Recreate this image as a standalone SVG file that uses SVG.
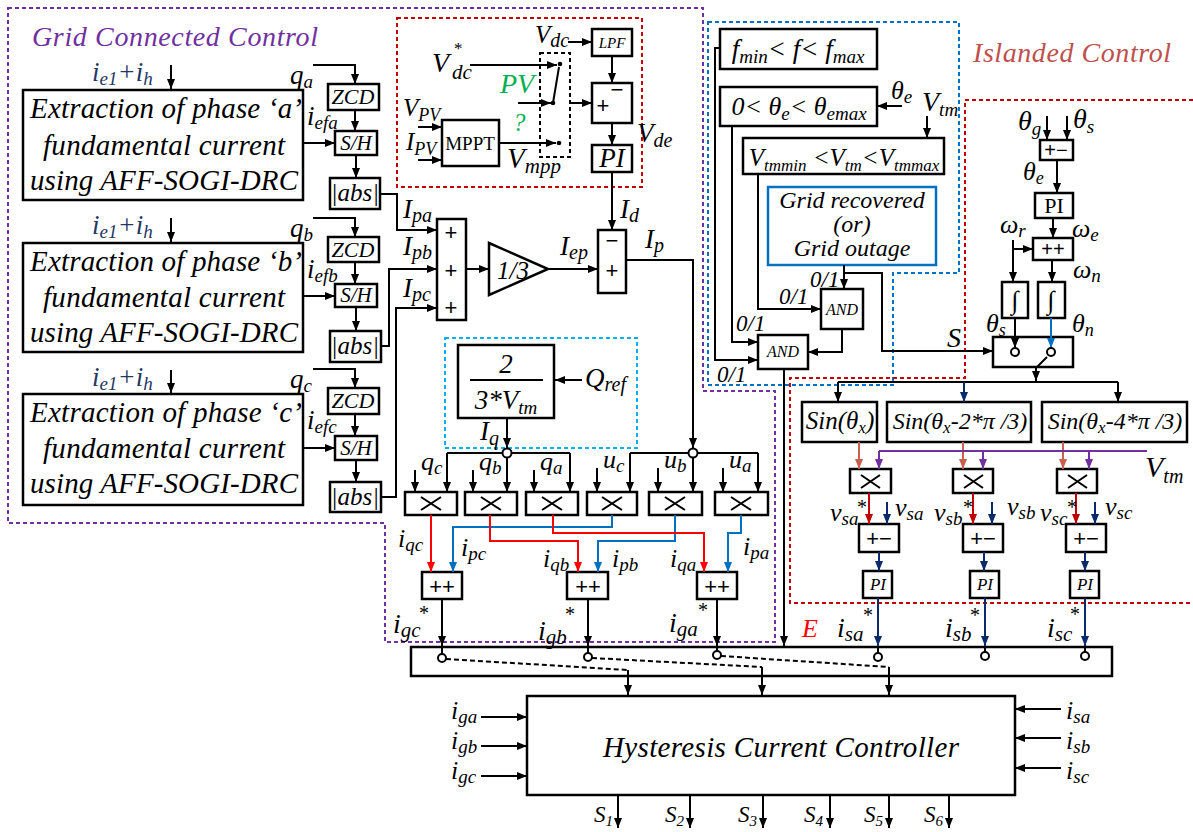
<svg xmlns="http://www.w3.org/2000/svg" width="1193" height="832" viewBox="0 0 1193 832">
<defs>
<style>
.t{font-family:"Liberation Serif","Times New Roman",serif;font-style:italic;fill:#000}
.r{font-family:"Liberation Serif","Times New Roman",serif;fill:#000}
.s{font-family:"Liberation Sans",Arial,sans-serif;fill:#000}
.m{text-anchor:middle}
.bx{fill:#fff;stroke:#000;stroke-width:2.5}
.w{fill:none;stroke:#000;stroke-width:2}
.ak{fill:none;stroke:#000;stroke-width:2;marker-end:url(#ak)}
.dsh{fill:none;stroke-width:2;stroke-dasharray:4 3}
.cr{fill:none;stroke:#FF0000;stroke-width:2;marker-end:url(#ar)}
.cb{fill:none;stroke:#0070C0;stroke-width:2;marker-end:url(#ab)}
.cn{fill:none;stroke:#0B2A6B;stroke-width:2;marker-end:url(#an)}
.cp{fill:none;stroke:#7030A0;stroke-width:2}
.cpa{fill:none;stroke:#7030A0;stroke-width:2;marker-end:url(#ap)}
.cs{fill:none;stroke:#C8604F;stroke-width:2;marker-end:url(#as)}
.cd{fill:none;stroke:#C00000;stroke-width:2;marker-end:url(#ad)}
.jc{fill:#fff;stroke:#000;stroke-width:2}
</style>
<marker id="ak" viewBox="0 0 10 8" refX="10" refY="4" markerWidth="10" markerHeight="8" markerUnits="userSpaceOnUse" orient="auto"><path d="M0,0L10,4L0,8z" fill="#000"/></marker>
<marker id="ar" viewBox="0 0 10 8" refX="10" refY="4" markerWidth="10" markerHeight="8" markerUnits="userSpaceOnUse" orient="auto"><path d="M0,0L10,4L0,8z" fill="#FF0000"/></marker>
<marker id="ab" viewBox="0 0 10 8" refX="10" refY="4" markerWidth="10" markerHeight="8" markerUnits="userSpaceOnUse" orient="auto"><path d="M0,0L10,4L0,8z" fill="#0070C0"/></marker>
<marker id="an" viewBox="0 0 10 8" refX="10" refY="4" markerWidth="10" markerHeight="8" markerUnits="userSpaceOnUse" orient="auto"><path d="M0,0L10,4L0,8z" fill="#0B2A6B"/></marker>
<marker id="ap" viewBox="0 0 10 8" refX="10" refY="4" markerWidth="10" markerHeight="8" markerUnits="userSpaceOnUse" orient="auto"><path d="M0,0L10,4L0,8z" fill="#7030A0"/></marker>
<marker id="as" viewBox="0 0 10 8" refX="10" refY="4" markerWidth="10" markerHeight="8" markerUnits="userSpaceOnUse" orient="auto"><path d="M0,0L10,4L0,8z" fill="#C8604F"/></marker>
<marker id="ad" viewBox="0 0 10 8" refX="10" refY="4" markerWidth="10" markerHeight="8" markerUnits="userSpaceOnUse" orient="auto"><path d="M0,0L10,4L0,8z" fill="#C00000"/></marker>
</defs>
<rect width="1193" height="832" fill="#fff"/>

<g id="regions">
<path class="dsh" stroke="#7030A0" d="M8,8H703V391H775V642H385V523H8Z"/>
<rect class="dsh" stroke="#C00000" x="397" y="18" width="245" height="169"/>
<rect class="dsh" stroke="#00B0F0" x="445" y="338" width="192" height="110"/>
<path class="dsh" stroke="#0070C0" d="M708,22H959V273H893V385H708Z"/>
<path class="dsh" stroke="#C00000" d="M1193,100H965V378H790V603H1193"/>
<rect class="dsh" stroke="#000" x="540" y="53" width="30" height="104"/>
<text class="t" x="32" y="46" font-size="28" style="fill:#7030A0" textLength="286">Grid Connected Control</text>
<text class="t" x="973" y="62" font-size="28" style="fill:#C0504D" textLength="198">Islanded Control</text>
</g>

<g id="nodes">
<g id="extract-a"><rect class="bx" x="23" y="90" width="280" height="110"/>
<text class="t m" x="166" y="118" font-size="29" textLength="272">Extraction of phase ‘a’</text>
<text class="t m" x="164" y="155" font-size="29" textLength="242">fundamental current</text>
<text class="t m" x="164" y="190" font-size="29" textLength="268">using AFF-SOGI-DRC</text></g>
<g id="extract-b"><rect class="bx" x="23" y="243" width="280" height="109"/>
<text class="t m" x="166" y="271" font-size="29" textLength="272">Extraction of phase ‘b’</text>
<text class="t m" x="164" y="307" font-size="29" textLength="242">fundamental current</text>
<text class="t m" x="164" y="342" font-size="29" textLength="268">using AFF-SOGI-DRC</text></g>
<g id="extract-c"><rect class="bx" x="23" y="394" width="280" height="111"/>
<text class="t m" x="166" y="422" font-size="29" textLength="272">Extraction of phase ‘c’</text>
<text class="t m" x="164" y="458" font-size="29" textLength="242">fundamental current</text>
<text class="t m" x="164" y="493" font-size="29" textLength="268">using AFF-SOGI-DRC</text></g>

<g id="zcd-a"><rect class="bx" x="328" y="84" width="51" height="26"/><text class="t m" x="353" y="104" font-size="22">ZCD</text></g>
<g id="sh-a"><rect class="bx" x="335" y="131" width="42" height="24"/><text class="t m" x="356" y="150" font-size="21">S/H</text></g>
<g id="abs-a"><rect class="bx" x="330" y="178" width="50" height="31"/><text class="t m" x="355" y="201" font-size="25">|abs|</text></g>
<g id="zcd-b"><rect class="bx" x="328" y="237" width="51" height="25"/><text class="t m" x="353" y="257" font-size="22">ZCD</text></g>
<g id="sh-b"><rect class="bx" x="335" y="284" width="42" height="23"/><text class="t m" x="356" y="302" font-size="21">S/H</text></g>
<g id="abs-b"><rect class="bx" x="330" y="331" width="51" height="31"/><text class="t m" x="355" y="354" font-size="25">|abs|</text></g>
<g id="zcd-c"><rect class="bx" x="328" y="388" width="51" height="26"/><text class="t m" x="353" y="408" font-size="22">ZCD</text></g>
<g id="sh-c"><rect class="bx" x="335" y="436" width="42" height="24"/><text class="t m" x="356" y="455" font-size="21">S/H</text></g>
<g id="abs-c"><rect class="bx" x="330" y="482" width="51" height="30"/><text class="t m" x="355" y="505" font-size="25">|abs|</text></g>

<g id="sum-abc"><rect class="bx" x="437" y="219" width="29" height="101"/>
<text class="s m" x="451" y="240" font-size="22">+</text><text class="s m" x="451" y="278" font-size="22">+</text><text class="s m" x="451" y="315" font-size="22">+</text></g>
<g id="gain"><polygon class="bx" points="489,243 489,295 548,269"/><text class="t m" x="513" y="279" font-size="25">1/3</text></g>
<g id="sum-id"><rect class="bx" x="598" y="230" width="28" height="63"/>
<text class="s m" x="612" y="248" font-size="22">−</text><text class="s m" x="612" y="278" font-size="22">+</text></g>

<g id="mppt"><rect class="bx" x="442" y="120" width="57" height="46"/><text class="r m" x="470" y="150" font-size="19">MPPT</text></g>
<g id="lpf"><rect class="bx" x="592" y="29" width="40" height="27"/><text class="t m" x="612" y="48" font-size="15">LPF</text></g>
<g id="sum-vdc"><rect class="bx" x="592" y="83" width="40" height="40"/>
<text class="s m" x="617" y="97" font-size="22">−</text><text class="s m" x="603" y="113" font-size="22">+</text></g>
<g id="pi-vdc"><rect class="bx" x="592" y="145" width="40" height="27"/><text class="t m" x="612" y="167" font-size="27">PI</text></g>
<g id="switch-pv"><circle cx="560" cy="64" r="2.3"/><circle cx="553" cy="103" r="2.3"/><circle cx="559" cy="143" r="2.3"/></g>

<g id="q-gain"><rect class="bx" x="458" y="345" width="96" height="73"/>
<text class="t m" x="506" y="373" font-size="27">2</text>
<line x1="470" y1="380" x2="543" y2="380" stroke="#000" stroke-width="2"/>
<text class="t m" x="506" y="409" font-size="27">3*V<tspan font-size="19" dy="5">tm</tspan></text></g>

<g id="mul-qc"><rect class="bx" x="405" y="492" width="52" height="23"/><path class="w" d="M421,497L441,510M421,510L441,497"/></g>
<g id="mul-qb"><rect class="bx" x="465" y="492" width="52" height="23"/><path class="w" d="M481,497L501,510M481,510L501,497"/></g>
<g id="mul-qa"><rect class="bx" x="526" y="492" width="52" height="23"/><path class="w" d="M542,497L562,510M542,510L562,497"/></g>
<g id="mul-uc"><rect class="bx" x="587" y="492" width="50" height="23"/><path class="w" d="M602,497L622,510M602,510L622,497"/></g>
<g id="mul-ub"><rect class="bx" x="649" y="492" width="53" height="23"/><path class="w" d="M665,497L685,510M665,510L685,497"/></g>
<g id="mul-ua"><rect class="bx" x="715" y="492" width="53" height="23"/><path class="w" d="M731,497L751,510M731,510L751,497"/></g>

<g id="sum-gc"><rect class="bx" x="422" y="572" width="40" height="27"/><text class="s m" x="442" y="594" font-size="22">++</text></g>
<g id="sum-gb"><rect class="bx" x="567" y="572" width="41" height="27"/><text class="s m" x="588" y="594" font-size="22">++</text></g>
<g id="sum-ga"><rect class="bx" x="697" y="572" width="40" height="27"/><text class="s m" x="717" y="594" font-size="22">++</text></g>

<g id="bus"><rect class="bx" x="411" y="647" width="701" height="29"/></g>
<g id="hcc"><rect class="bx" x="527" y="696" width="488" height="99"/>
<text class="t m" x="781" y="757" font-size="29" textLength="356">Hysteresis Current Controller</text></g>

<g id="cond-f"><rect class="bx" x="720" y="29" width="157" height="40"/>
<text class="t m" x="798" y="58" font-size="27">f<tspan font-size="19" dy="5">min</tspan><tspan dy="-5">&lt; f&lt; f</tspan><tspan font-size="19" dy="5">max</tspan></text></g>
<g id="cond-theta"><rect class="bx" x="720" y="87" width="157" height="39"/>
<text class="t m" x="799" y="115" font-size="26">0&lt; θ<tspan font-size="19" dy="5">e</tspan><tspan dy="-5">&lt; θ</tspan><tspan font-size="19" dy="5">emax</tspan></text></g>
<g id="cond-v"><rect class="bx" x="743" y="138" width="201" height="36"/>
<text class="t m" x="844" y="166" font-size="25">V<tspan font-size="17" dy="5">tmmin</tspan><tspan dy="-5"> &lt;V</tspan><tspan font-size="17" dy="5">tm</tspan><tspan dy="-5">&lt;V</tspan><tspan font-size="17" dy="5">tmmax</tspan></text></g>
<g id="grid-status"><rect x="768" y="187" width="168" height="78" fill="#fff" stroke="#0070C0" stroke-width="2.5"/>
<text class="t m" x="852" y="208" font-size="24">Grid recovered</text>
<text class="t m" x="852" y="232" font-size="24">(or)</text>
<text class="t m" x="852" y="256" font-size="24">Grid outage</text></g>
<g id="and1"><rect class="bx" x="821" y="289" width="42" height="40"/><text class="t m" x="842" y="315" font-size="16">AND</text></g>
<g id="and2"><rect class="bx" x="758" y="335" width="50" height="34"/><text class="t m" x="783" y="357" font-size="16">AND</text></g>

<g id="sum-theta"><rect class="bx" x="1040" y="140" width="33" height="20"/><text class="s m" x="1056" y="157" font-size="20">+−</text></g>
<g id="pi-theta"><rect class="bx" x="1035" y="193" width="38" height="25"/><text class="r m" x="1054" y="213" font-size="22">PI</text></g>
<g id="sum-omega"><rect class="bx" x="1033" y="238" width="40" height="22"/><text class="s m" x="1053" y="256" font-size="20">++</text></g>
<g id="int-s"><rect class="bx" x="1002" y="282" width="26" height="36"/><text class="t m" x="1015" y="309" font-size="26">∫</text></g>
<g id="int-n"><rect class="bx" x="1038" y="282" width="27" height="36"/><text class="t m" x="1051" y="309" font-size="26">∫</text></g>
<g id="switch"><rect class="bx" x="993" y="337" width="80" height="30"/></g>

<g id="sin-a"><rect class="bx" x="802" y="402" width="75" height="40"/><text class="t m" x="840" y="429" font-size="25">Sin(θ<tspan font-size="17" dy="4">x</tspan><tspan dy="-4">)</tspan></text></g>
<g id="sin-b"><rect class="bx" x="887" y="402" width="144" height="40"/><text class="t m" x="960" y="429" font-size="24">Sin(θ<tspan font-size="17" dy="4">x</tspan><tspan dy="-4">-2*π /3)</tspan></text></g>
<g id="sin-c"><rect class="bx" x="1042" y="402" width="145" height="40"/><text class="t m" x="1115" y="429" font-size="24">Sin(θ<tspan font-size="17" dy="4">x</tspan><tspan dy="-4">-4*π /3)</tspan></text></g>
<g id="mul-va"><rect class="bx" x="850" y="469" width="41" height="24"/><path class="w" d="M861,475L880,488M861,488L880,475"/></g>
<g id="mul-vb"><rect class="bx" x="953" y="469" width="40" height="24"/><path class="w" d="M964,475L983,488M964,488L983,475"/></g>
<g id="mul-vc"><rect class="bx" x="1057" y="469" width="40" height="24"/><path class="w" d="M1068,475L1087,488M1068,488L1087,475"/></g>
<g id="sum-va"><rect class="bx" x="859" y="524" width="40" height="28"/><text class="s m" x="879" y="546" font-size="22">+−</text></g>
<g id="sum-vb"><rect class="bx" x="963" y="524" width="40" height="28"/><text class="s m" x="983" y="546" font-size="22">+−</text></g>
<g id="sum-vc"><rect class="bx" x="1066" y="524" width="40" height="28"/><text class="s m" x="1086" y="546" font-size="22">+−</text></g>
<g id="pi-va"><rect class="bx" x="863" y="571" width="29" height="27"/><text class="t m" x="878" y="590" font-size="17">PI</text></g>
<g id="pi-vb"><rect class="bx" x="970" y="571" width="29" height="27"/><text class="t m" x="985" y="590" font-size="17">PI</text></g>
<g id="pi-vc"><rect class="bx" x="1070" y="571" width="29" height="27"/><text class="t m" x="1085" y="590" font-size="17">PI</text></g>
</g>

<g id="connectors">
<path class="ak" d="M171,65V89"/><path class="ak" d="M171,218V242"/><path class="ak" d="M171,370V393"/>
<path class="ak" d="M313,65H355V84"/><path class="ak" d="M313,218H355V237"/><path class="ak" d="M313,369H355V388"/>
<path class="ak" d="M355,110V131"/><path class="ak" d="M355,262V284"/><path class="ak" d="M355,414V436"/>
<path class="ak" d="M303,143H335"/><path class="ak" d="M303,296H335"/><path class="ak" d="M303,448H335"/>
<path class="ak" d="M356,155V178"/><path class="ak" d="M356,307V331"/><path class="ak" d="M356,460V482"/>
<path class="ak" d="M380,194H397V230H437"/><path class="ak" d="M381,346H389V269H437"/><path class="ak" d="M381,497H396V308H437"/>
<path class="ak" d="M470,65H557"/><path class="ak" d="M518,103H551"/><path class="ak" d="M499,143H556"/>
<path class="w" d="M553,103L559,67"/>
<path class="ak" d="M570,103H592"/><path class="ak" d="M568,42H592"/>
<path class="ak" d="M612,56V83"/><path class="ak" d="M612,123V145"/>
<path class="ak" d="M418,127H442"/><path class="ak" d="M418,160H442"/>
<path class="ak" d="M612,172V230"/>
<path class="ak" d="M466,269H489"/><path class="ak" d="M548,269H598"/>
<path class="ak" d="M626,260H693V448"/>
<path class="ak" d="M582,380H555"/><path class="ak" d="M507,418V448"/>
<path class="w" d="M447,453H570"/><path class="ak" d="M447,453V492"/><path class="ak" d="M507,457V492"/><path class="ak" d="M570,453V492"/>
<path class="w" d="M630,453H758"/><path class="ak" d="M630,453V492"/><path class="ak" d="M693,457V492"/><path class="ak" d="M758,453V492"/>
<path class="ak" d="M415,470V492"/><path class="ak" d="M473,470V492"/><path class="ak" d="M534,470V492"/>
<path class="ak" d="M597,468V492"/><path class="ak" d="M658,468V492"/><path class="ak" d="M723,468V492"/>
<path class="cr" d="M431,515V572"/><path class="cb" d="M612,515V527H453V572"/>
<path class="cr" d="M490,515V541H578V572"/><path class="cb" d="M675,515V541H598V572"/>
<path class="cr" d="M553,515V533H704V572"/><path class="cb" d="M741,515V533H728V572"/>
<path class="ak" d="M442,599V646"/><path class="ak" d="M588,599V646"/><path class="ak" d="M717,599V646"/>
<path class="w" d="M442,646V654M588,646V653M717,646V651"/>
<path class="w" stroke-dasharray="5 3" d="M446,659L628,670M592,658L762,667M721,656L889,667"/>
<path class="ak" d="M628,670V695"/><path class="ak" d="M762,667V695"/><path class="ak" d="M889,667V695"/>
<path class="ak" d="M481,717H527"/><path class="ak" d="M481,746H527"/><path class="ak" d="M481,776H527"/>
<path class="ak" d="M1061,709H1015"/><path class="ak" d="M1061,738H1015"/><path class="ak" d="M1061,768H1015"/>
<path class="ak" d="M618,795V828"/><path class="ak" d="M690,795V828"/><path class="ak" d="M763,795V828"/>
<path class="ak" d="M830,795V828"/><path class="ak" d="M889,795V828"/><path class="ak" d="M949,795V828"/>
<path class="ak" d="M720,48H715V360H758"/><path class="ak" d="M732,126V342H758"/><path class="ak" d="M758,174V309H821"/>
<path class="ak" d="M844,265V289"/><path class="ak" d="M844,273H882V351H993"/>
<path class="ak" d="M842,329V352H808"/><path class="ak" d="M784,369V646"/>
<path class="ak" d="M902,106H877"/><path class="ak" d="M927,116V138"/>
<path class="ak" d="M1047,116V140"/><path class="ak" d="M1067,116V140"/>
<path class="ak" d="M1057,160V193"/><path class="ak" d="M1053,218V238"/>
<path class="ak" d="M1013,240V282"/><path class="ak" d="M1013,249H1033"/><path class="ak" d="M1052,260V282"/>
<path class="ak" d="M1015,318V348"/><path class="cb" d="M1051,318V348"/>
<path class="w" d="M1047,357L1037,367"/><path class="ak" d="M1036,366V381"/>
<path class="w" d="M838,382H1118"/><path class="ak" d="M838,382V402"/><path class="cn" d="M964,382V402"/><path class="ak" d="M1118,382V402"/>
<path class="cs" d="M859,442V469"/><path class="cs" d="M963,442V469"/><path class="cs" d="M1063,442V469"/>
<path class="cp" d="M879,451H1147"/><path class="cpa" d="M879,451V469"/><path class="cpa" d="M983,451V469"/><path class="cpa" d="M1089,451V469"/>
<path class="cd" d="M869,493V524"/><path class="cd" d="M973,493V524"/><path class="cd" d="M1076,493V524"/>
<path class="cn" d="M887,502V524"/><path class="cn" d="M992,502V524"/><path class="cn" d="M1095,502V524"/>
<path class="cn" d="M879,552V571"/><path class="cn" d="M984,552V571"/><path class="cn" d="M1085,552V571"/>
<path class="cn" d="M878,598V646"/><path class="cn" d="M985,598V646"/><path class="cn" d="M1085,598V646"/>
<path class="w" d="M878,646V653M985,646V652M1085,646V652"/>
</g>

<g id="junctions">
<circle class="jc" cx="507" cy="453" r="4.5"/><circle class="jc" cx="693" cy="453" r="4.5"/>
<circle class="jc" cx="442" cy="658" r="4"/><circle class="jc" cx="588" cy="657" r="4"/><circle class="jc" cx="717" cy="655" r="4"/>
<circle class="jc" cx="878" cy="657" r="4"/><circle class="jc" cx="985" cy="656" r="4"/><circle class="jc" cx="1085" cy="656" r="4"/>
<circle class="jc" cx="1015" cy="352" r="4"/><circle class="jc" cx="1051" cy="352" r="4"/>
</g>

<g id="labels">
<text class="t" x="92" y="81" font-size="27" style="fill:#1F3864">i<tspan font-size="19" dy="4">e1</tspan><tspan dy="-4">+i</tspan><tspan font-size="19" dy="4">h</tspan></text>
<text class="t" x="92" y="234" font-size="27" style="fill:#1F3864">i<tspan font-size="19" dy="4">e1</tspan><tspan dy="-4">+i</tspan><tspan font-size="19" dy="4">h</tspan></text>
<text class="t" x="92" y="386" font-size="27" style="fill:#1F3864">i<tspan font-size="19" dy="4">e1</tspan><tspan dy="-4">+i</tspan><tspan font-size="19" dy="4">h</tspan></text>
<text class="t" x="290" y="84" font-size="27">q<tspan font-size="19" dy="4">a</tspan></text>
<text class="t" x="290" y="237" font-size="27">q<tspan font-size="19" dy="4">b</tspan></text>
<text class="t" x="290" y="388" font-size="27">q<tspan font-size="19" dy="4">c</tspan></text>
<text class="t" x="307" y="125" font-size="27">i<tspan font-size="19" dy="4">efa</tspan></text>
<text class="t" x="307" y="278" font-size="27">i<tspan font-size="19" dy="4">efb</tspan></text>
<text class="t" x="307" y="429" font-size="27">i<tspan font-size="19" dy="4">efc</tspan></text>
<text class="t" x="403" y="218" font-size="27">I<tspan font-size="20" dy="4">pa</tspan></text>
<text class="t" x="403" y="255" font-size="27">I<tspan font-size="20" dy="4">pb</tspan></text>
<text class="t" x="403" y="297" font-size="27">I<tspan font-size="20" dy="4">pc</tspan></text>
<text class="t" x="560" y="255" font-size="27">I<tspan font-size="20" dy="4">ep</tspan></text>
<text class="t" x="620" y="218" font-size="27">I<tspan font-size="20" dy="4">d</tspan></text>
<text class="t" x="645" y="248" font-size="27">I<tspan font-size="20" dy="4">p</tspan></text>
<text class="t" x="432" y="72" font-size="28">V</text><text class="r" x="454" y="54" font-size="17">*</text><text class="t" x="452" y="79" font-size="21">dc</text>
<text class="t" x="500" y="93" font-size="28" style="fill:#00B050">PV</text>
<text class="t" x="513" y="131" font-size="25" style="fill:#00B050">?</text>
<text class="t" x="403" y="116" font-size="25">V<tspan font-size="18" dy="5">PV</tspan></text>
<text class="t" x="406" y="150" font-size="25">I<tspan font-size="18" dy="5">PV</tspan></text>
<text class="t" x="507" y="168" font-size="29">V<tspan font-size="21" dy="5">mpp</tspan></text>
<text class="t" x="535" y="43" font-size="25">V<tspan font-size="20" dy="4">dc</tspan></text>
<text class="t" x="637" y="142" font-size="27">V<tspan font-size="20" dy="5">de</tspan></text>
<text class="t" x="585" y="387" font-size="27">Q<tspan font-size="20" dy="4">ref</tspan></text>
<text class="t" x="480" y="440" font-size="27">I<tspan font-size="20" dy="5">q</tspan></text>
<text class="t" x="421" y="470" font-size="26">q<tspan font-size="19" dy="4">c</tspan></text>
<text class="t" x="479" y="470" font-size="26">q<tspan font-size="19" dy="4">b</tspan></text>
<text class="t" x="540" y="470" font-size="26">q<tspan font-size="19" dy="4">a</tspan></text>
<text class="t" x="603" y="468" font-size="26">u<tspan font-size="19" dy="4">c</tspan></text>
<text class="t" x="664" y="468" font-size="26">u<tspan font-size="19" dy="4">b</tspan></text>
<text class="t" x="729" y="468" font-size="26">u<tspan font-size="19" dy="4">a</tspan></text>
<text class="t" x="398" y="547" font-size="26">i<tspan font-size="19" dy="4">qc</tspan></text>
<text class="t" x="461" y="556" font-size="26">i<tspan font-size="19" dy="4">pc</tspan></text>
<text class="t" x="543" y="567" font-size="26">i<tspan font-size="19" dy="4">qb</tspan></text>
<text class="t" x="612" y="567" font-size="26">i<tspan font-size="19" dy="4">pb</tspan></text>
<text class="t" x="670" y="567" font-size="26">i<tspan font-size="19" dy="4">qa</tspan></text>
<text class="t" x="743" y="555" font-size="26">i<tspan font-size="19" dy="4">pa</tspan></text>
<text class="r m" x="424" y="620" font-size="20">*</text>
<text class="r m" x="570" y="621" font-size="20">*</text>
<text class="r m" x="703" y="617" font-size="20">*</text>
<text class="t" x="393" y="633" font-size="28">i<tspan font-size="21" dy="4">gc</tspan></text>
<text class="t" x="538" y="640" font-size="28">i<tspan font-size="21" dy="4">gb</tspan></text>
<text class="t" x="669" y="632" font-size="28">i<tspan font-size="21" dy="4">ga</tspan></text>
<text class="t" x="451" y="719" font-size="26">i<tspan font-size="19" dy="4">ga</tspan></text>
<text class="t" x="451" y="749" font-size="26">i<tspan font-size="19" dy="4">gb</tspan></text>
<text class="t" x="451" y="779" font-size="26">i<tspan font-size="19" dy="4">gc</tspan></text>
<text class="t" x="1066" y="719" font-size="26">i<tspan font-size="19" dy="4">sa</tspan></text>
<text class="t" x="1066" y="749" font-size="26">i<tspan font-size="19" dy="4">sb</tspan></text>
<text class="t" x="1066" y="779" font-size="26">i<tspan font-size="19" dy="4">sc</tspan></text>
<text class="t" x="594" y="822" font-size="23">S<tspan font-size="15" dy="4">1</tspan></text>
<text class="t" x="665" y="822" font-size="23">S<tspan font-size="15" dy="4">2</tspan></text>
<text class="t" x="738" y="822" font-size="23">S<tspan font-size="15" dy="4">3</tspan></text>
<text class="t" x="804" y="822" font-size="23">S<tspan font-size="15" dy="4">4</tspan></text>
<text class="t" x="864" y="822" font-size="23">S<tspan font-size="15" dy="4">5</tspan></text>
<text class="t" x="924" y="822" font-size="23">S<tspan font-size="15" dy="4">6</tspan></text>
<text class="t" x="891" y="99" font-size="26">θ<tspan font-size="19" dy="4">e</tspan></text>
<text class="t" x="922" y="111" font-size="28">V<tspan font-size="19" dy="5">tm</tspan></text>
<text class="t" x="810" y="287" font-size="23">0/1</text>
<text class="t" x="779" y="304" font-size="23">0/1</text>
<text class="t" x="736" y="331" font-size="23">0/1</text>
<text class="t" x="717" y="382" font-size="23">0/1</text>
<text class="t" x="947" y="347" font-size="28">S</text>
<text class="t" x="1018" y="130" font-size="28">θ<tspan font-size="19" dy="5">g</tspan></text>
<text class="t" x="1073" y="128" font-size="28">θ<tspan font-size="19" dy="5">s</tspan></text>
<text class="t" x="1023" y="180" font-size="26">θ<tspan font-size="18" dy="4">e</tspan></text>
<text class="t" x="1072" y="237" font-size="26">ω<tspan font-size="19" dy="4">e</tspan></text>
<text class="t" x="1000" y="233" font-size="26">ω<tspan font-size="19" dy="4">r</tspan></text>
<text class="t" x="1073" y="278" font-size="26">ω<tspan font-size="19" dy="4">n</tspan></text>
<text class="t" x="986" y="332" font-size="26">θ<tspan font-size="18" dy="4">s</tspan></text>
<text class="t" x="1072" y="332" font-size="26">θ<tspan font-size="18" dy="4">n</tspan></text>
<text class="t" x="1145" y="477" font-size="30">V<tspan font-size="20" dy="6">tm</tspan></text>
<text class="t" x="830" y="521" font-size="26">v<tspan font-size="19" dy="4">sa</tspan></text>
<text class="t" x="895" y="516" font-size="26">v<tspan font-size="19" dy="4">sa</tspan></text>
<text class="t" x="934" y="521" font-size="26">v<tspan font-size="19" dy="4">sb</tspan></text>
<text class="t" x="1007" y="515" font-size="26">v<tspan font-size="19" dy="4">sb</tspan></text>
<text class="t" x="1040" y="521" font-size="26">v<tspan font-size="19" dy="4">sc</tspan></text>
<text class="t" x="1105" y="515" font-size="26">v<tspan font-size="19" dy="4">sc</tspan></text>
<text class="r m" x="862" y="514" font-size="20">*</text>
<text class="r m" x="968" y="514" font-size="20">*</text>
<text class="r m" x="1072" y="514" font-size="20">*</text>
<text class="t" x="837" y="637" font-size="28">i<tspan font-size="21" dy="4">sa</tspan></text>
<text class="t" x="945" y="637" font-size="28">i<tspan font-size="21" dy="4">sb</tspan></text>
<text class="t" x="1047" y="637" font-size="28">i<tspan font-size="21" dy="4">sc</tspan></text>
<text class="r m" x="868" y="622" font-size="20">*</text>
<text class="r m" x="975" y="622" font-size="20">*</text>
<text class="r m" x="1075" y="621" font-size="20">*</text>
<text class="t" x="802" y="637" font-size="26" style="fill:#FF0000">E</text>
</g>
</svg>
